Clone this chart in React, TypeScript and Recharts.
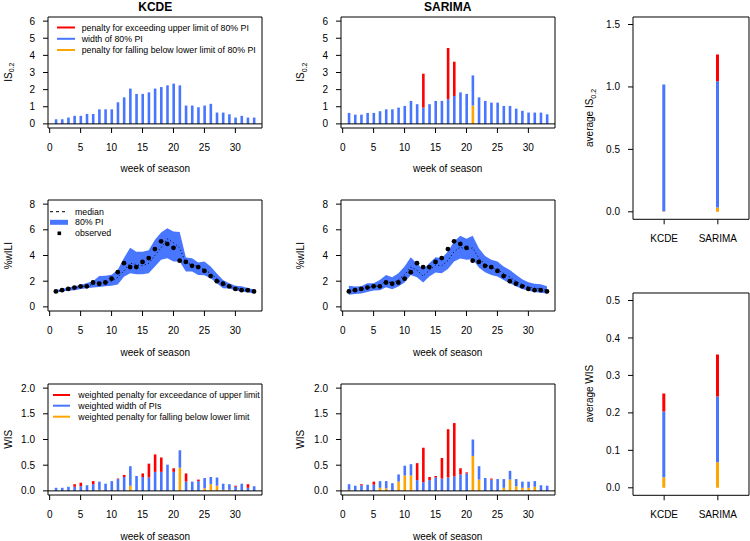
import React from "react";
import { ComposedChart, Bar, Line, Area, XAxis, YAxis, ReferenceLine, ReferenceArea } from "recharts";

const FONT = '"Liberation Sans", Arial, Helvetica, sans-serif';
const RED = "#ff0000";
const BLUE = "#4876ff";
const ORANGE = "#ffa500";

// weeks of the season
const weeks = [1, 2, 3, 4, 5, 6, 7, 8, 9, 10, 11, 12, 13, 14, 15, 16, 17, 18, 19, 20, 21, 22, 23, 24, 25, 26, 27, 28, 29, 30, 31, 32, 33];
const weekTicks = [0, 5, 10, 15, 20, 25, 30];

// interval score (alpha = 0.2), per week
const kcdeIsBelow = [0, 0, 0, 0, 0, 0, 0, 0, 0, 0, 0, 0, 0, 0, 0, 0, 0, 0, 0, 0, 0, 0, 0, 0, 0, 0, 0, 0, 0, 0, 0, 0, 0];
const kcdeIsWidth = [0.27, 0.27, 0.37, 0.47, 0.47, 0.58, 0.58, 0.85, 0.85, 0.85, 1.26, 1.55, 2.06, 1.75, 1.75, 1.84, 2.06, 2.15, 2.25, 2.35, 2.25, 1.07, 1.07, 0.97, 1.07, 1.17, 0.66, 0.66, 0.56, 0.37, 0.47, 0.37, 0.37];
const kcdeIsAbove = [0, 0, 0, 0, 0, 0, 0, 0, 0, 0, 0, 0, 0, 0, 0, 0, 0, 0, 0, 0, 0, 0, 0, 0, 0, 0, 0, 0, 0, 0, 0, 0, 0];
const sarimaIsBelow = [0, 0, 0, 0, 0, 0, 0, 0, 0, 0, 0, 0, 0, 0, 0, 0, 0, 0, 0, 0, 1.07, 0, 0, 0, 0, 0, 0, 0, 0, 0, 0, 0, 0];
const sarimaIsWidth = [0.64, 0.54, 0.54, 0.64, 0.64, 0.74, 0.85, 0.85, 0.95, 1.05, 1.34, 1.15, 0.95, 1.15, 1.34, 1.34, 1.44, 1.63, 1.84, 1.75, 1.76, 1.55, 1.34, 1.24, 1.24, 1.05, 1.05, 0.89, 0.76, 0.66, 0.66, 0.66, 0.56];
const sarimaIsAbove = [0, 0, 0, 0, 0, 0, 0, 0, 0, 0, 0, 0, 1.98, 0, 0, 0, 2.99, 2.0, 0, 0, 0, 0, 0, 0, 0, 0, 0, 0, 0, 0, 0, 0, 0];

// %wILI: observed, forecast medians and 80% PIs
const observed = [1.2, 1.3, 1.4, 1.5, 1.6, 1.6, 1.9, 1.8, 1.9, 2.2, 2.7, 3.4, 3.1, 3.1, 3.5, 3.8, 4.5, 5.1, 4.9, 4.6, 3.6, 3.5, 3.2, 3.1, 2.8, 2.4, 2.0, 1.8, 1.6, 1.4, 1.3, 1.3, 1.2];
const kcdeMedian = [1.2, 1.3, 1.4, 1.5, 1.55, 1.65, 1.75, 1.9, 1.9, 2.0, 2.3, 2.8, 3.4, 3.3, 3.2, 3.4, 4.0, 4.6, 5.3, 5.0, 4.6, 3.4, 3.3, 3.1, 2.9, 2.6, 2.2, 1.8, 1.6, 1.45, 1.35, 1.3, 1.2];
const kcdeLower = [1.1, 1.2, 1.25, 1.3, 1.4, 1.45, 1.5, 1.55, 1.6, 1.64, 1.75, 2.35, 2.62, 2.55, 2.55, 2.62, 3.14, 3.66, 3.79, 3.53, 3.53, 2.75, 2.75, 2.49, 2.47, 2.23, 1.84, 1.45, 1.43, 1.27, 1.19, 1.12, 1.06];
const kcdeUpper = [1.32, 1.4, 1.5, 1.6, 1.7, 1.85, 2.0, 2.4, 2.42, 2.5, 2.9, 3.8, 4.6, 4.3, 4.3, 4.4, 5.22, 5.8, 6.13, 5.87, 5.82, 3.85, 3.79, 3.45, 3.53, 3.14, 2.6, 2.1, 1.84, 1.64, 1.6, 1.48, 1.35];
const sarimaMedian = [1.3, 1.3, 1.35, 1.5, 1.55, 1.7, 2.0, 1.85, 2.1, 2.5, 3.1, 2.85, 2.4, 2.85, 3.25, 3.2, 3.6, 4.3, 4.65, 4.45, 4.6, 3.8, 3.3, 3.05, 2.9, 2.6, 2.3, 2.0, 1.75, 1.55, 1.45, 1.4, 1.3];
const sarimaLower = [0.94, 1.0, 1.05, 1.15, 1.27, 1.3, 1.53, 1.38, 1.58, 1.9, 2.49, 2.31, 1.9, 2.36, 2.68, 2.62, 2.94, 3.53, 3.77, 3.66, 3.71, 3.06, 2.7, 2.49, 2.36, 2.1, 1.84, 1.6, 1.4, 1.25, 1.15, 1.1, 1.05];
const sarimaUpper = [1.64, 1.58, 1.6, 1.84, 1.84, 2.1, 2.49, 2.31, 2.62, 3.14, 3.87, 3.35, 2.94, 3.4, 3.87, 3.79, 4.31, 5.09, 5.53, 5.3, 5.53, 4.57, 3.97, 3.66, 3.53, 3.14, 2.88, 2.5, 2.16, 1.91, 1.81, 1.76, 1.61];

// weighted interval score, per week
const kcdeWisBelow = [0, 0, 0, 0, 0, 0, 0, 0.02, 0, 0, 0, 0, 0.1, 0, 0, 0, 0, 0, 0, 0, 0.45, 0, 0, 0, 0.05, 0.13, 0.1, 0.02, 0.02, 0, 0, 0, 0];
const kcdeWisWidth = [0.06, 0.06, 0.08, 0.08, 0.09, 0.11, 0.13, 0.16, 0.14, 0.19, 0.23, 0.27, 0.38, 0.29, 0.27, 0.26, 0.37, 0.37, 0.51, 0.37, 0.34, 0.18, 0.18, 0.19, 0.2, 0.14, 0.16, 0.12, 0.11, 0.08, 0.14, 0.06, 0.09];
const kcdeWisAbove = [0, 0, 0, 0.05, 0.07, 0, 0.06, 0, 0, 0, 0.01, 0.04, 0, 0, 0.07, 0.27, 0.34, 0.28, 0, 0.07, 0, 0.16, 0, 0.03, 0, 0, 0, 0, 0, 0.02, 0, 0.07, 0];
const sarimaWisBelow = [0.02, 0, 0, 0, 0, 0.06, 0.05, 0, 0.18, 0.3, 0.3, 0, 0, 0, 0, 0, 0, 0, 0, 0, 0.68, 0.22, 0, 0, 0, 0.06, 0.22, 0.09, 0.06, 0.06, 0.08, 0, 0];
const sarimaWisWidth = [0.11, 0.1, 0.11, 0.12, 0.12, 0.13, 0.14, 0.15, 0.14, 0.19, 0.22, 0.21, 0.17, 0.21, 0.26, 0.24, 0.26, 0.28, 0.32, 0.34, 0.32, 0.26, 0.25, 0.22, 0.23, 0.17, 0.17, 0.14, 0.12, 0.12, 0.11, 0.11, 0.1];
const sarimaWisAbove = [0, 0, 0.02, 0, 0.06, 0, 0, 0, 0, 0, 0, 0.33, 0.67, 0.06, 0.03, 0.4, 0.94, 1.04, 0.12, 0.02, 0, 0, 0, 0.02, 0, 0, 0, 0, 0, 0, 0, 0, 0];

// season averages
const models = ["KCDE", "SARIMA"];
const avgIsBelow = [0.005, 0.035];
const avgIsWidth = [1.015, 1.011];
const avgIsAbove = [0, 0.214];
const avgWisBelow = [0.028, 0.068];
const avgWisWidth = [0.176, 0.176];
const avgWisAbove = [0.048, 0.112];

const isLegend = ["penalty for exceeding upper limit of 80% PI", "width of 80% PI", "penalty for falling below lower limit of 80% PI"];
const wiliLegend = ["median", "80% PI", "observed"];
const wisLegend = ["weighted penalty for exceedance of upper limit", "weighted width of PIs", "weighted penalty for falling below lower limit"];

// plotting boxes on the page
const BOX_W = 214;
const BOX_H = 111;
const COL_X = [48.3, 340.7];
const ROW_Y = [16.7, 200.2, 383.8];
const AVG_X = 633.3;
const AVG_W = 116;
const AVG_Y = [16.8, 292.5];
const AVG_H = 202.3;
const PAD_L = 40;
const PAD_T = 5;
const PAD_R = 5;
const PAD_B = 30;

const WEEK_DOMAIN = [-0.27, 34.3];
const tickStyle = { fill: "#000", fontSize: 10, fontFamily: FONT };

function Frame({ x, y, w, h, data, children }: any) {
  return (
    <div style={{ position: "absolute", left: x - PAD_L, top: y - PAD_T }}>
      <ComposedChart
        width={w + PAD_L + PAD_R}
        height={h + PAD_T + PAD_B}
        data={data}
        margin={{ top: PAD_T, right: PAD_R, left: 0, bottom: 0 }}
      >
        {children}
      </ComposedChart>
    </div>
  );
}

function xAxisEl(dataKey: string, domain: number[], ticks: number[], fmt?: (v: number) => string) {
  return (
    <XAxis
      type="number"
      dataKey={dataKey}
      domain={domain}
      ticks={ticks}
      interval={0}
      allowDataOverflow
      height={PAD_B}
      axisLine={false}
      tickLine={{ stroke: "#000" }}
      tickSize={5}
      tickMargin={10.5}
      tick={tickStyle}
      tickFormatter={fmt}
    />
  );
}

function yAxisEl(domain: number[], ticks: number[], fmt?: (v: number) => string) {
  return (
    <YAxis
      type="number"
      domain={domain}
      ticks={ticks}
      interval={0}
      allowDataOverflow
      width={PAD_L}
      axisLine={false}
      tickLine={{ stroke: "#000" }}
      tickSize={5}
      tickMargin={8}
      tick={tickStyle}
      tickFormatter={fmt}
    />
  );
}

function boxEl(xd: number[], yd: number[]) {
  return <ReferenceArea x1={xd[0]} x2={xd[1]} y1={yd[0]} y2={yd[1]} fill="none" stroke="#000" strokeWidth={1} ifOverflow="visible" />;
}

function StackPanel({ x, y, below, width, above, yDomain, yTicks, fmt }: any) {
  const rows = weeks.map((week, i) => ({ week, below: below[i], width: width[i], above: above[i] }));
  return (
    <Frame x={x} y={y} w={BOX_W} h={BOX_H} data={rows}>
      {xAxisEl("week", WEEK_DOMAIN, weekTicks)}
      {yAxisEl(yDomain, yTicks, fmt)}
      <Bar dataKey="below" stackId="s" fill={ORANGE} barSize={2.6} isAnimationActive={false} />
      <Bar dataKey="width" stackId="s" fill={BLUE} barSize={2.6} isAnimationActive={false} />
      <Bar dataKey="above" stackId="s" fill={RED} barSize={2.6} isAnimationActive={false} />
      <ReferenceLine y={0} stroke="#000" />
      {boxEl(WEEK_DOMAIN, yDomain)}
    </Frame>
  );
}

function WiliPanel({ x, y, lower, upper, median }: any) {
  const rows = weeks.map((week, i) => ({ week, band: [lower[i], upper[i]], median: median[i], obs: observed[i] }));
  const yd = [-0.32, 8.32];
  return (
    <Frame x={x} y={y} w={BOX_W} h={BOX_H} data={rows}>
      {xAxisEl("week", WEEK_DOMAIN, weekTicks)}
      {yAxisEl(yd, [0, 2, 4, 6, 8])}
      <Area dataKey="band" type="linear" stroke="none" fill={BLUE} fillOpacity={1} isAnimationActive={false} />
      <Line dataKey="median" type="linear" stroke="#000" strokeWidth={1} strokeDasharray="1 2.5" dot={false} isAnimationActive={false} />
      <Line dataKey="obs" type="linear" stroke="none" dot={{ r: 2.4, fill: "#000", stroke: "none" }} isAnimationActive={false} />
      {boxEl(WEEK_DOMAIN, yd)}
    </Frame>
  );
}

function AvgPanel({ y, below, width, above, yDomain, yTicks }: any) {
  const rows = models.map((m, i) => ({ pos: i + 1, below: below[i], width: width[i], above: above[i] }));
  const xd = [0.42, 2.58];
  return (
    <Frame x={AVG_X} y={y} w={AVG_W} h={AVG_H} data={rows}>
      {xAxisEl("pos", xd, [1, 2], (v) => models[v - 1])}
      {yAxisEl(yDomain, yTicks, (v) => v.toFixed(1))}
      <Bar dataKey="below" stackId="s" fill={ORANGE} barSize={3} isAnimationActive={false} />
      <Bar dataKey="width" stackId="s" fill={BLUE} barSize={3} isAnimationActive={false} />
      <Bar dataKey="above" stackId="s" fill={RED} barSize={3} isAnimationActive={false} />
      {boxEl(xd, yDomain)}
    </Frame>
  );
}

function YLab({ x, y, text, sub }: any) {
  return (
    <text transform={`translate(${x},${y}) rotate(-90)`} textAnchor="middle" fontSize={10} fill="#000">
      {text}
      {sub ? (
        <tspan fontSize={7} dy={2.5}>
          {sub}
        </tspan>
      ) : null}
    </text>
  );
}

function LineLegend({ x, x2, tx, ys, labels, colors }: any) {
  return (
    <g>
      {labels.map((l: string, i: number) => (
        <g key={l}>
          <line x1={x} x2={x2} y1={ys[i]} y2={ys[i]} stroke={colors[i]} strokeWidth={2} />
          <text x={tx} y={ys[i] + 3.1} fontSize={8.8} fill="#000">
            {l}
          </text>
        </g>
      ))}
    </g>
  );
}

export default function App() {
  const fmt1 = (v: number) => v.toFixed(1);
  const cx = (c: number) => COL_X[c] + BOX_W / 2;
  const cy = (r: number) => ROW_Y[r] + BOX_H / 2;
  return (
    <div style={{ position: "absolute", left: 0, top: 0, width: 750, height: 541, overflow: "hidden", background: "#fff", fontFamily: FONT }}>
      <StackPanel x={COL_X[0]} y={ROW_Y[0]} below={kcdeIsBelow} width={kcdeIsWidth} above={kcdeIsAbove} yDomain={[-0.24, 6.24]} yTicks={[0, 1, 2, 3, 4, 5, 6]} />
      <StackPanel x={COL_X[1]} y={ROW_Y[0]} below={sarimaIsBelow} width={sarimaIsWidth} above={sarimaIsAbove} yDomain={[-0.24, 6.24]} yTicks={[0, 1, 2, 3, 4, 5, 6]} />
      <WiliPanel x={COL_X[0]} y={ROW_Y[1]} lower={kcdeLower} upper={kcdeUpper} median={kcdeMedian} />
      <WiliPanel x={COL_X[1]} y={ROW_Y[1]} lower={sarimaLower} upper={sarimaUpper} median={sarimaMedian} />
      <StackPanel x={COL_X[0]} y={ROW_Y[2]} below={kcdeWisBelow} width={kcdeWisWidth} above={kcdeWisAbove} yDomain={[-0.08, 2.08]} yTicks={[0, 0.5, 1, 1.5, 2]} fmt={fmt1} />
      <StackPanel x={COL_X[1]} y={ROW_Y[2]} below={sarimaWisBelow} width={sarimaWisWidth} above={sarimaWisAbove} yDomain={[-0.08, 2.08]} yTicks={[0, 0.5, 1, 1.5, 2]} fmt={fmt1} />
      <AvgPanel y={AVG_Y[0]} below={avgIsBelow} width={avgIsWidth} above={avgIsAbove} yDomain={[-0.06, 1.56]} yTicks={[0, 0.5, 1, 1.5]} />
      <AvgPanel y={AVG_Y[1]} below={avgWisBelow} width={avgWisWidth} above={avgWisAbove} yDomain={[-0.02, 0.52]} yTicks={[0, 0.1, 0.2, 0.3, 0.4, 0.5]} />

      <svg width={750} height={541} style={{ position: "absolute", left: 0, top: 0, pointerEvents: "none" }} fontFamily={FONT}>
        <text x={cx(0)} y={11} textAnchor="middle" fontSize={12} fontWeight="bold">KCDE</text>
        <text x={cx(1)} y={11} textAnchor="middle" fontSize={12} fontWeight="bold">SARIMA</text>

        {[0, 1].map((c) =>
          [0, 1, 2].map((r) => (
            <text key={`xl${c}${r}`} x={cx(c)} y={ROW_Y[r] + BOX_H + 44.7} textAnchor="middle" fontSize={10}>
              week of season
            </text>
          ))
        )}

        {[0, 1].map((c) => (
          <g key={`yl${c}`}>
            <YLab x={COL_X[c] - 36.6} y={cy(0)} text="IS" sub="0.2" />
            <YLab x={COL_X[c] - 36.6} y={cy(1)} text="%wILI" />
            <YLab x={COL_X[c] - 36.6} y={cy(2)} text="WIS" />
          </g>
        ))}
        <YLab x={593} y={AVG_Y[0] + AVG_H / 2} text="average IS" sub="0.2" />
        <YLab x={593} y={AVG_Y[1] + AVG_H / 2} text="average WIS" />

        <LineLegend x={57} x2={75} tx={81.7} ys={[27.5, 38.8, 50]} labels={isLegend} colors={[RED, BLUE, ORANGE]} />
        <LineLegend x={53} x2={70} tx={78.3} ys={[395, 405.7, 416.7]} labels={wisLegend} colors={[RED, BLUE, ORANGE]} />

        <line x1={50} x2={68} y1={211.7} y2={211.7} stroke="#000" strokeWidth={1} strokeDasharray="3 3" />
        <line x1={50} x2={68} y1={222.3} y2={222.3} stroke={BLUE} strokeWidth={5} />
        <rect x={57.5} y={231.5} width={3.6} height={3.6} fill="#000" />
        {wiliLegend.map((l, i) => (
          <text key={l} x={75} y={[211.7, 222.3, 233.3][i] + 3.1} fontSize={8.8}>
            {l}
          </text>
        ))}
      </svg>
    </div>
  );
}
